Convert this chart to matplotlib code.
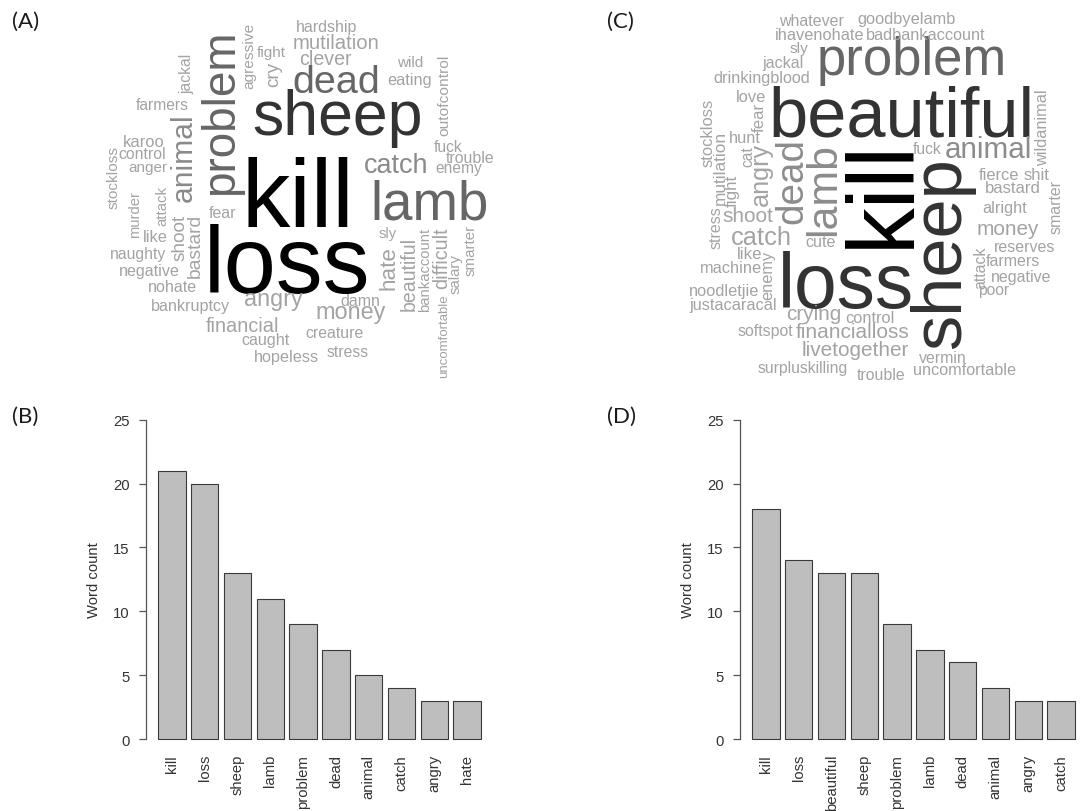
import matplotlib
matplotlib.use("Agg")
import matplotlib.pyplot as plt
from matplotlib.font_manager import FontProperties
from matplotlib.textpath import TextPath

plt.rcParams['font.family'] = ['Liberation Sans', 'DejaVu Sans']

W, H, DPI = 1083, 812, 100

# bar chart data (B) and (D)
words_b = ["kill", "loss", "sheep", "lamb", "problem", "dead", "animal", "catch", "angry", "hate"]
counts_b = [21, 20, 13, 11, 9, 7, 5, 4, 3, 3]
words_d = ["kill", "loss", "beautiful", "sheep", "problem", "lamb", "dead", "animal", "angry", "catch"]
counts_d = [18, 14, 13, 13, 9, 7, 6, 4, 3, 3]
yticks = [0, 5, 10, 15, 20, 25]

# word cloud vocabularies (A) and (C)
cloud_a = ["kill", "loss", "sheep", "lamb", "problem", "dead", "animal", "catch", "angry", "hate",
           "money", "financial", "shoot", "bastard", "mutilation", "clever", "hardship", "fight",
           "cry", "agressive", "jackal", "wild", "eating", "outofcontrol", "farmers", "karoo",
           "control", "anger", "stockloss", "murder", "attack", "fear", "like", "naughty",
           "negative", "nohate", "bankruptcy", "fuck", "trouble", "enemy", "sly", "beautiful",
           "bankaccount", "difficult", "uncomfortable", "salary", "smarter", "damn", "creature",
           "caught", "stress", "hopeless"]
cloud_c = ["kill", "loss", "beautiful", "sheep", "problem", "lamb", "dead", "animal", "angry",
           "catch", "whatever", "goodbyelamb", "ihavenohate", "badbankaccount", "sly", "jackal",
           "drinkingblood", "love", "stockloss", "mutilation", "fight", "stress", "hunt", "cat",
           "fear", "shoot", "like", "machine", "enemy", "noodletjie", "justacaracal", "cute",
           "crying", "control", "softspot", "financialloss", "livetogether", "surpluskilling",
           "trouble", "vermin", "uncomfortable", "fuck", "fierce", "shit", "bastard", "alright",
           "money", "reserves", "attack", "farmers", "negative", "poor", "smarter", "wildanimal"]

# cloud layout in figure pixels: (start, end along the word, baseline, vertical)
layout_a = {
    "hardship": (295, 358, 31.7, 0), "mutilation": (291.7, 380, 49.3, 0),
    "fight": (256.7, 286.7, 57.3, 0), "clever": (298, 352, 65, 0),
    "dead": (292.7, 380.7, 93.3, 0), "wild": (396.7, 423.3, 66.7, 0),
    "eating": (386.7, 431.7, 85, 0), "farmers": (135, 190, 110, 0),
    "sheep": (250, 425, 135, 0), "karoo": (123.3, 165, 146.7, 0),
    "control": (118.3, 166.7, 159.3, 0), "anger": (128.3, 168.3, 171.7, 0),
    "fuck": (433.3, 463.3, 151.7, 0), "trouble": (445, 495, 163.3, 0),
    "enemy": (435, 483.3, 173.3, 0), "catch": (363.3, 428.3, 173.3, 0),
    "kill": (245, 350, 226.7, 0), "lamb": (370, 488.3, 220, 0),
    "fear": (208.3, 236.7, 218.3, 0), "like": (143.3, 167.3, 241.7, 0),
    "sly": (378.3, 396.7, 238.3, 0), "loss": (205, 370, 293.3, 0),
    "naughty": (109.3, 167.3, 259.3, 0), "negative": (118.3, 180.7, 276, 0),
    "nohate": (147.3, 197.3, 291.7, 0), "bankruptcy": (150, 231.7, 310.7, 0),
    "angry": (242.7, 303.3, 306, 0), "damn": (340, 380, 306, 0),
    "money": (314, 386.7, 319.3, 0), "financial": (205, 280.7, 331.7, 0),
    "creature": (305, 365, 338.3, 0), "caught": (240, 290, 345, 0),
    "stress": (326, 369.3, 356.7, 0), "hopeless": (253.3, 320, 361.7, 0),
    "agressive": (90, 21.7, 253.3, 1), "cry": (87.3, 61.7, 278.3, 1),
    "jackal": (95, 53.3, 191.7, 1), "problem": (196.7, 28.3, 233.3, 1),
    "animal": (203, 113.3, 191.7, 1), "shoot": (261.7, 213.3, 185, 1),
    "bastard": (278, 213, 200, 1), "stockloss": (210.7, 145, 117.3, 1),
    "murder": (238, 190, 139.3, 1), "attack": (226.7, 185, 166, 1),
    "hate": (290, 246.7, 394, 1), "beautiful": (311.7, 236.7, 415, 1),
    "bankaccount": (313.3, 226.7, 429.3, 1), "uncomfortable": (380, 293.3, 447.3, 1),
    "difficult": (290, 226.7, 447.3, 1), "salary": (295, 253.3, 459.3, 1),
    "smarter": (276.7, 223.3, 475, 1), "outofcontrol": (136.7, 53.3, 448.3, 1),
}
layout_c = {
    "whatever": (779.3, 844, 26, 0), "goodbyelamb": (858.3, 955, 24, 0),
    "ihavenohate": (776, 863.3, 40, 0), "badbankaccount": (866.7, 985, 40, 0),
    "sly": (790, 808.3, 52.7, 0), "problem": (820, 1003.3, 75, 0),
    "jackal": (762.7, 803.3, 68.3, 0), "drinkingblood": (714, 809.3, 83.3, 0),
    "love": (736.7, 765, 101.7, 0), "beautiful": (773, 1030, 136.7, 0),
    "hunt": (729.3, 760, 142.7, 0), "fuck": (913.3, 941.7, 154, 0),
    "animal": (946, 1030, 158.3, 0), "fierce": (979.3, 1018.3, 180, 0),
    "shit": (1024, 1049.3, 180, 0), "bastard": (986, 1039.3, 193.3, 0),
    "alright": (983.3, 1026.7, 213.3, 0), "money": (977.3, 1038.3, 235, 0),
    "shoot": (723.3, 773.3, 221.7, 0), "catch": (732.7, 790.7, 245, 0),
    "cute": (806, 835, 247.3, 0), "reserves": (995, 1055, 251.7, 0),
    "like": (738.3, 761.7, 259.3, 0), "farmers": (986.7, 1040, 266, 0),
    "machine": (700.7, 760.7, 273.3, 0), "negative": (991.7, 1050.7, 281.7, 0),
    "noodletjie": (690, 758.3, 296, 0), "poor": (978.3, 1008.3, 295, 0),
    "justacaracal": (690, 776, 310, 0), "crying": (787.3, 840, 320, 0),
    "control": (846, 893.3, 322.7, 0), "softspot": (738.3, 793.3, 336, 0),
    "financialloss": (796.7, 909.3, 338.3, 0), "livetogether": (802.7, 908.3, 356, 0),
    "vermin": (919.3, 966, 363.3, 0), "surpluskilling": (758.3, 847.3, 372.7, 0),
    "uncomfortable": (914, 1015, 375, 0), "trouble": (857.3, 905, 380, 0),
    "loss": (781.7, 910, 308.3, 0),
    "stockloss": (166.7, 100, 712.3, 1), "mutilation": (203.3, 131.7, 724.3, 1),
    "fight": (206.7, 175, 736.7, 1), "stress": (248.3, 206.7, 721, 1),
    "cat": (166.7, 146.7, 752.7, 1), "fear": (131.7, 103.3, 764, 1),
    "angry": (205, 143.3, 768.3, 1), "dead": (221.7, 140, 802.7, 1),
    "lamb": (233.3, 145, 835, 1), "enemy": (300, 251.7, 772.7, 1),
    "kill": (241.7, 145, 908.3, 1), "sheep": (346.7, 160, 960, 1),
    "attack": (288.3, 246.7, 985, 1), "smarter": (233.3, 180, 1060.7, 1),
    "wildanimal": (165, 90, 1047.3, 1),
}
# grey shades by frequency
tone_a = {"kill": "#000000", "loss": "#000000", "sheep": "#333333", "lamb": "#666666",
          "problem": "#666666", "dead": "#666666", "animal": "#8a8a8a", "catch": "#8a8a8a"}
tone_c = {"kill": "#000000", "loss": "#333333", "beautiful": "#333333", "sheep": "#333333",
          "problem": "#666666", "lamb": "#8c8c8c", "dead": "#8c8c8c", "animal": "#8c8c8c"}
light = "#a3a3a3"

fp = FontProperties(family="Liberation Sans")

fig = plt.figure(figsize=(W / DPI, H / DPI), dpi=DPI)

# full figure canvas in pixel units
cv = fig.add_axes([0, 0, 1, 1])
cv.set_xlim(0, W)
cv.set_ylim(H, 0)
cv.axis("off")


def draw_cloud(words, layout, tone, shrink=1.0):
    for w in words:
        a, b, base, vert = layout[w]
        # size the word so that its ink length matches the span
        w10 = TextPath((0, 0), w, size=10, prop=fp).get_extents().width
        size = shrink * 10 * abs(b - a) * 72 / (DPI * w10)
        mid = (a + b) / 2
        c = tone.get(w, light)
        if vert:
            cv.text(base, mid, w, rotation=90, rotation_mode="anchor", ha="center",
                    va="baseline", fontsize=size, color=c, fontproperties=fp)
        else:
            cv.text(mid, base, w, ha="center", va="baseline", fontsize=size, color=c,
                    fontproperties=fp)


draw_cloud(cloud_a, layout_a, tone_a, shrink=0.95)
draw_cloud(cloud_c, layout_c, tone_c)


def draw_bars(left, words, counts):
    ax = fig.add_axes([left / W, 1 - 752.8 / H, 348 / W, (752.8 - 408) / H])
    ax.set_facecolor("none")
    x = [0.7 + 1.2 * i for i in range(len(words))]
    ax.bar(x, counts, width=1, color="#bebebe", edgecolor="#3a3a3a", linewidth=0.8)
    ax.set_xlim(-0.272, 12.472)
    ax.set_ylim(-1, 26)
    for s in ["top", "right", "bottom"]:
        ax.spines[s].set_visible(False)
    ax.spines["left"].set_bounds(0, 25)
    ax.spines["left"].set_color("#555555")
    ax.spines["left"].set_linewidth(0.9)
    ax.set_yticks(yticks)
    ax.tick_params(axis="y", length=5.3, width=0.9, color="#555555", pad=6,
                   labelsize=10.7, labelcolor="#333333")
    ax.set_xticks(x)
    ax.set_xticklabels(words, rotation=90, va="top", ha="center")
    ax.tick_params(axis="x", length=0, pad=1.5, labelsize=10.7, labelcolor="#333333")
    cv.text(left - 52, 580, "Word count", rotation=90, ha="center", va="center",
            fontsize=10.7, color="#333333")


draw_bars(145.5, words_b, counts_b)
draw_bars(739.5, words_d, counts_d)

# panel letters
for lab, px, py in [("(A)", 12, 28.3), ("(B)", 12, 423.3), ("(C)", 607, 28.3), ("(D)", 607, 423.3)]:
    cv.text(px, py, lab, ha="left", va="baseline", fontsize=16, color="#1a1a1a",
            family=["Lato", "DejaVu Sans"])

fig.savefig("out.png", dpi=DPI)
